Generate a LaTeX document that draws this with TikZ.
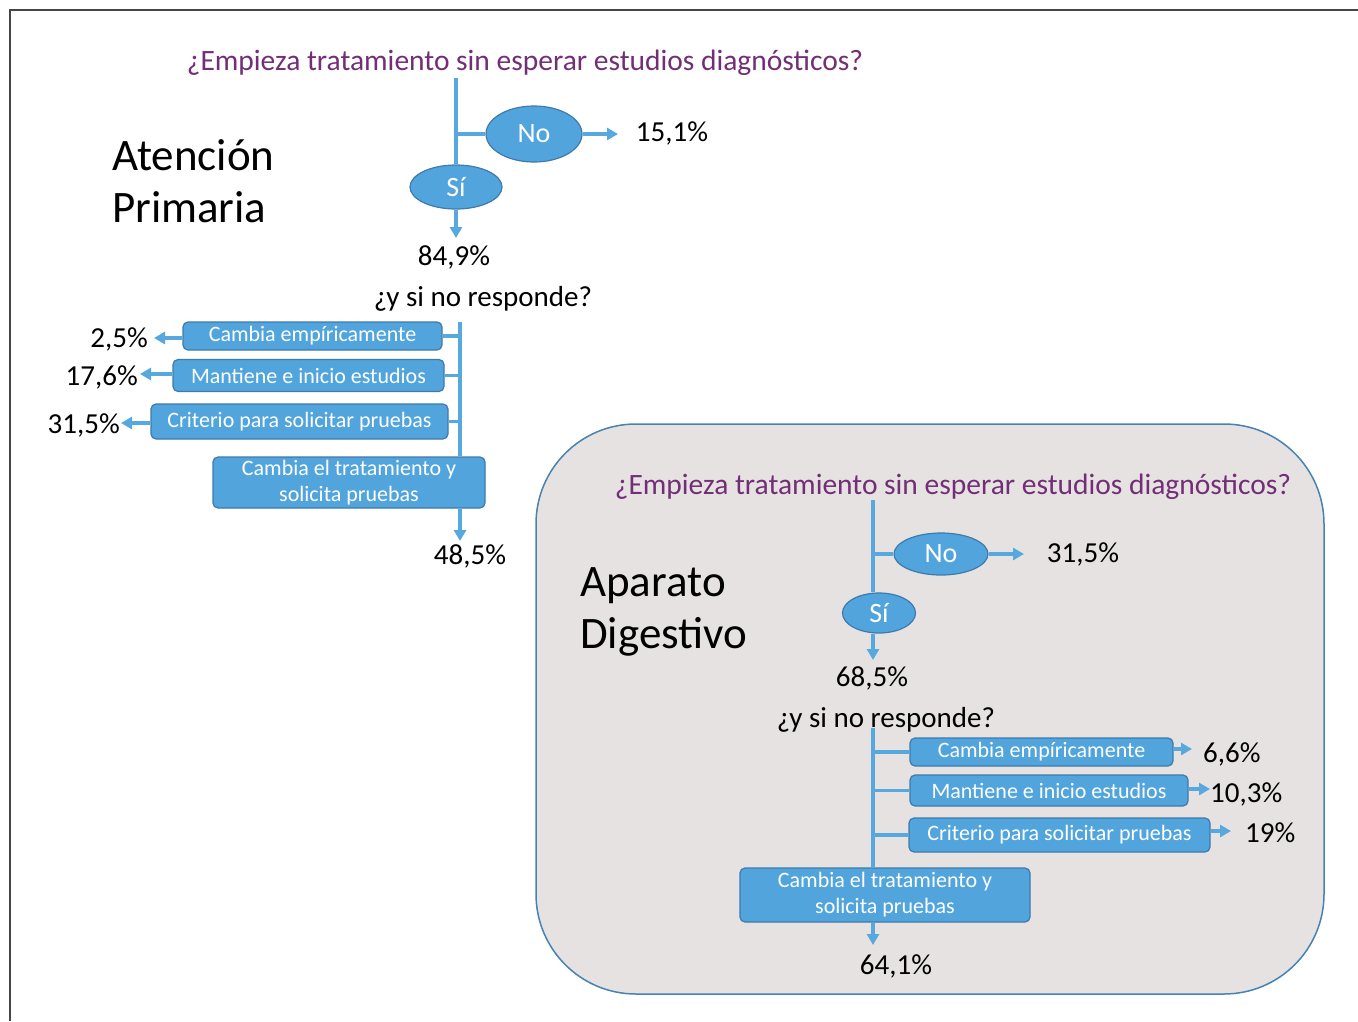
\documentclass[tikz,border=0pt]{standalone}
\usepackage{fontspec}
\setmainfont{Carlito}
\usetikzlibrary{shapes.geometric,arrows.meta}
\definecolor{lineblue}{RGB}{86,168,222}
\definecolor{boxblue}{RGB}{82,165,220}
\definecolor{boxedge}{RGB}{62,122,172}
\definecolor{panelfill}{RGB}{230,226,226}
\definecolor{paneledge}{RGB}{70,130,180}
\definecolor{qpurple}{RGB}{114,46,118}
\definecolor{framegray}{RGB}{70,70,70}
\begin{document}
\begin{tikzpicture}[x=1pt,y=-1pt,
  flow/.style={draw=lineblue, line width=3.3pt},
  arr/.style={flow, -{Triangle[length=11pt,width=12pt]}},
  qtext/.style={text=qpurple, font=\fontsize{29.5}{34}\selectfont, inner sep=0pt, yshift=-2.5pt},
  pct/.style={text=black, font=\fontsize{29}{34}\selectfont, inner sep=0pt, yshift=-2pt},
  big/.style={text=black, font=\fontsize{45}{54}\selectfont, inner sep=0pt, anchor=west},
  yn/.style={ellipse, fill=boxblue, draw=boxedge, line width=1.2pt, text=white, inner sep=0pt, font=\fontsize{28}{32}\selectfont},
  opt/.style={rectangle, rounded corners=5pt, fill=boxblue, draw=boxedge, line width=1.2pt, text=white, inner sep=0pt, font=\fontsize{22}{26}\selectfont, align=center}
]
\useasboundingbox (0,0) rectangle (1358,1021);
% outer frame
\draw[framegray, line width=1.2pt] (10,1021) -- (10,10) -- (1358,10);

% ===== Atención Primaria =====
\node[qtext] (q1) at (525,60) {¿Empieza tratamiento sin esperar estudios diagnósticos?};
\node[big] (ap1) at (112,155) {Atención};
\node[big] (ap2) at (112,207) {Primaria};
\coordinate (v1top) at (456,78);
\node[yn, minimum width=96pt, minimum height=56pt] (no1) at (534,134) {No};
\node[yn, minimum width=92pt, minimum height=44pt] (si1) at (456,187) {Sí};
\node[pct] (p151) at (672,131) {15,1\%};
\node[pct] (p849) at (454,255) {84,9\%};
\coordinate (tno1) at (618,134);
\coordinate (tsi1) at (456,238);
\draw[flow] (v1top) -- (si1.north);
\draw[flow] (v1top |- no1.west) -- (no1.west);
\draw[arr] (no1.east) -- (tno1);
\draw[arr] (si1.south) -- (tsi1);

\node[pct] (r1) at (483,297) {¿y si no responde?};
\coordinate (v2top) at (460,322);
\node[opt, minimum width=259pt, minimum height=28pt] (a1) at (312.5,336) {Cambia empíricamente};
\node[opt, minimum width=271pt, minimum height=32pt] (a2) at (308.5,375.5) {Mantiene e inicio estudios};
\node[opt, minimum width=297pt, minimum height=35pt] (a3) at (299.5,421.5) {Criterio para solicitar pruebas};
\node[opt, minimum width=272pt, minimum height=51pt] (a4) at (349,482.5) {Cambia el tratamiento y\\solicita pruebas};
\node[pct, anchor=east] (pa1) at (148,337) {2,5\%};
\node[pct, anchor=east] (pa2) at (138,375) {17,6\%};
\node[pct, anchor=east] (pa3) at (120,423) {31,5\%};
\node[pct] (pa4) at (470,554) {48,5\%};
\coordinate (ta1) at (154,338);
\coordinate (ta2) at (140,374);
\coordinate (ta3) at (121,423);
\coordinate (ta4) at (461,541);
\draw[flow] (v2top) -- (v2top |- a4.north);
\draw[flow] (a1.east) -- (v2top |- a1.east);
\draw[flow] (a2.east) -- (v2top |- a2.east);
\draw[flow] (a3.east) -- (v2top |- a3.east);
\draw[arr] (a1.west |- ta1) -- (ta1);
\draw[arr] (a2.west |- ta2) -- (ta2);
\draw[arr] (a3.west |- ta3) -- (ta3);
\draw[arr] (v2top |- a4.south) -- (v2top |- ta4);

% ===== Aparato Digestivo panel =====
\node[draw=paneledge, fill=panelfill, line width=1.5pt, rounded corners=100pt, minimum width=788pt, minimum height=570pt, inner sep=0pt] (panel) at (930,709) {};
\node[qtext] (q2) at (953,484) {¿Empieza tratamiento sin esperar estudios diagnósticos?};
\node[big] (ad1) at (580,586) {Aparato};
\node[big] (ad2) at (580,637) {Digestivo};
\coordinate (v3top) at (873,500);
\node[yn, minimum width=94pt, minimum height=42pt] (no2) at (941,554) {No};
\node[yn, minimum width=73pt, minimum height=40pt] (si2) at (879,613) {Sí};
\node[pct] (p315) at (1083,552) {31,5\%};
\node[pct] (p685) at (872,676) {68,5\%};
\coordinate (tno2) at (1024,554);
\coordinate (tsi2) at (873,660);
\draw[flow] (v3top) -- (v3top |- si2.north);
\draw[flow] (v3top |- no2.west) -- (no2.west);
\draw[arr] (no2.east) -- (tno2);
\draw[arr] (v3top |- si2.south) -- (tsi2);

\node[pct] (r2) at (886,718) {¿y si no responde?};
\coordinate (v4top) at (873,728);
\node[opt, minimum width=263pt, minimum height=28pt] (b1) at (1041.5,752) {Cambia empíricamente};
\node[opt, minimum width=278pt, minimum height=31pt] (b2) at (1049,790.5) {Mantiene e inicio estudios};
\node[opt, minimum width=301pt, minimum height=34pt] (b3) at (1059.5,835) {Criterio para solicitar pruebas};
\node[opt, minimum width=290pt, minimum height=54pt] (b4) at (885,895) {Cambia el tratamiento y\\solicita pruebas};
\node[pct, anchor=west] (pb1) at (1203,752) {6,6\%};
\node[pct, anchor=west] (pb2) at (1210,792) {10,3\%};
\node[pct, anchor=west] (pb3) at (1245,831) {19\%};
\node[pct] (pb4) at (896,964) {64,1\%};
\coordinate (tb1) at (1192,749);
\coordinate (tb2) at (1210,789);
\coordinate (tb3) at (1231,831);
\coordinate (tb4) at (873,945);
\draw[flow] (v4top) -- (v4top |- b4.north);
\draw[flow] (v4top |- b1.west) -- (b1.west);
\draw[flow] (v4top |- b2.west) -- (b2.west);
\draw[flow] (v4top |- b3.west) -- (b3.west);
\draw[arr] (b1.east |- tb1) -- (tb1);
\draw[arr] (b2.east |- tb2) -- (tb2);
\draw[arr] (b3.east |- tb3) -- (tb3);
\draw[arr] (v4top |- b4.south) -- (tb4);
\end{tikzpicture}
\end{document}
